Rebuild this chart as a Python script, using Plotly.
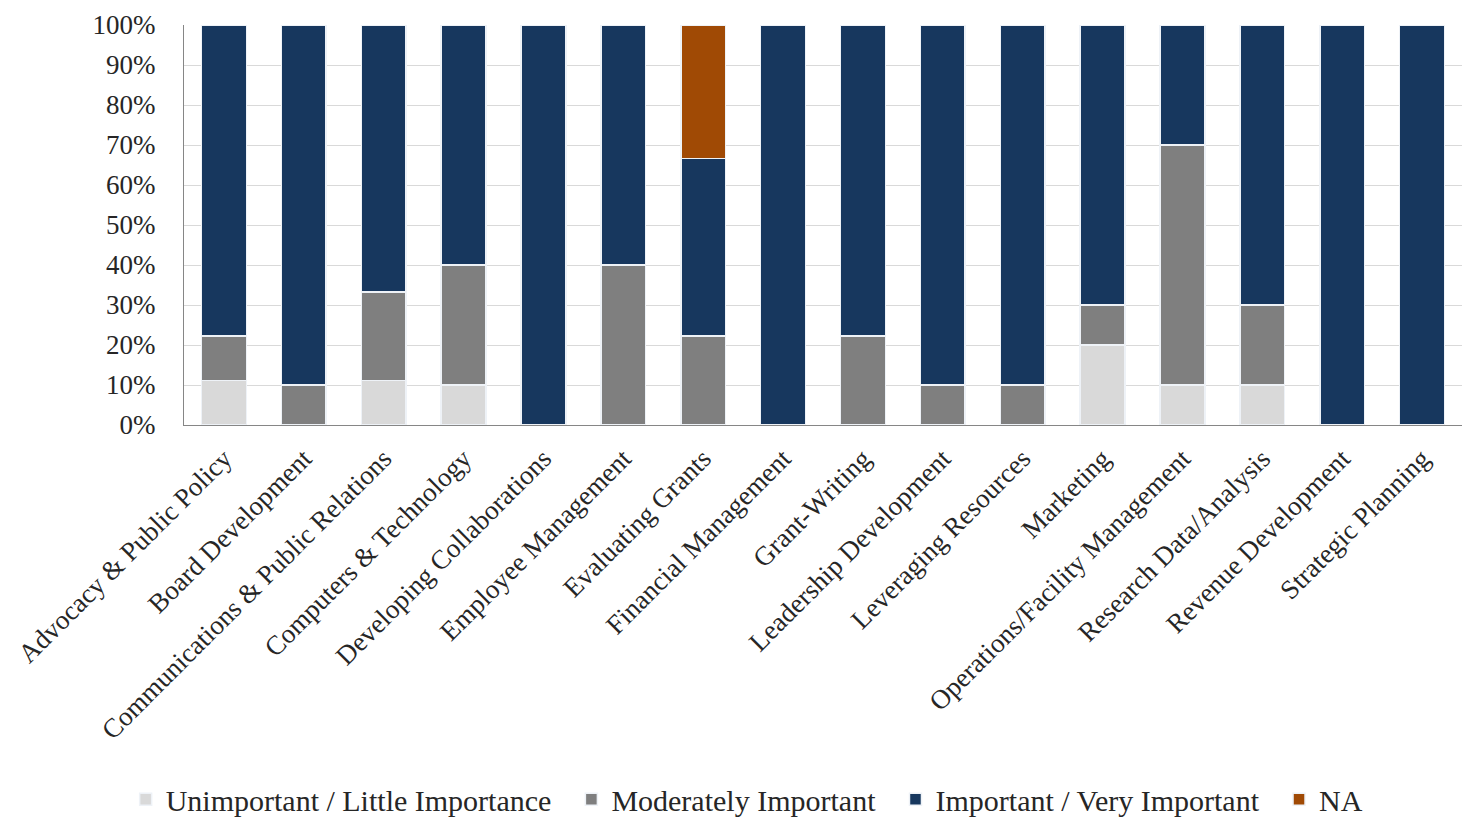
import plotly.graph_objects as go

categories = [
    "Advocacy & Public Policy", "Board Development", "Communications & Public Relations",
    "Computers & Technology", "Developing Collaborations", "Employee Management",
    "Evaluating Grants", "Financial Management", "Grant-Writing", "Leadership Development",
    "Leveraging Resources", "Marketing", "Operations/Facility Management",
    "Research Data/Analysis", "Revenue Development", "Strategic Planning",
]
unimportant = [11.1, 0, 11.1, 10, 0, 0, 0, 0, 0, 0, 0, 20, 10, 10, 0, 0]
moderate = [11.1, 10, 22.2, 30, 0, 40, 22.2, 0, 22.2, 10, 10, 10, 60, 20, 0, 0]
important = [77.8, 90, 66.7, 60, 100, 60, 44.4, 100, 77.8, 90, 90, 70, 30, 70, 100, 100]
na = [0, 0, 0, 0, 0, 0, 33.4, 0, 0, 0, 0, 0, 0, 0, 0, 0]

series = [
    ("Unimportant / Little Importance", unimportant, "#D9D9D9"),
    ("Moderately Important", moderate, "#7F7F7F"),
    ("Important / Very Important", important, "#17375E"),
    ("NA", na, "#A04A05"),
]

FONT = "Liberation Serif"
PAD = "\u00a0" * 2
fig = go.Figure()
for name, vals, color in series:
    fig.add_trace(go.Bar(
        x=categories, y=[v / 100 for v in vals], name=name + (PAD if name != "NA" else ""),
        marker=dict(color=color, line=dict(color="#EEF2F7", width=1.5)),
    ))

fig.update_layout(
    barmode="stack",
    bargap=0.44,
    width=1465, height=819,
    paper_bgcolor="white", plot_bgcolor="white",
    margin=dict(l=184, r=3, t=25, b=394, autoexpand=False),
    font=dict(family=FONT, size=24, color="#262626"),
    legend=dict(orientation="h", x=0.51, xanchor="center", xref="container",
                y=0.024, yanchor="middle", yref="container",
                font=dict(family=FONT, size=30, color="#262626"),
                traceorder="normal"),
    showlegend=True,
)
fig.update_yaxes(range=[0, 1], dtick=0.1, tickformat=".0%", gridcolor="#D9D9D9",
                 showline=True, linecolor="#868686", linewidth=1, ticks="",
                 ticklabelstandoff=22,
                 tickfont=dict(family=FONT, size=27, color="#262626"), zeroline=False)
fig.update_xaxes(tickangle=-45, showline=True, linecolor="#868686", linewidth=1,
                 ticklabelstandoff=6,
                 tickfont=dict(family=FONT, size=27, color="#262626"))

fig.write_html("out.html")
